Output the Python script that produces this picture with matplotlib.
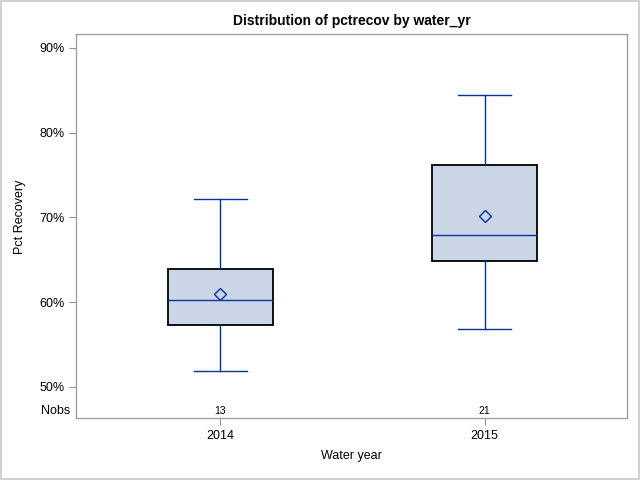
import matplotlib
matplotlib.use("Agg")
import matplotlib.pyplot as plt
import matplotlib.transforms as mtransforms
from matplotlib.ticker import FuncFormatter

plt.rcParams['font.family'] = ['Liberation Sans', 'DejaVu Sans']

years = ['2014', '2015']
nobs = [13, 21]
whislo = [51.9, 56.8]
q1 = [57.3, 64.8]
med = [60.2, 67.9]
q3 = [63.9, 76.2]
whishi = [72.2, 84.5]
means = [61.0, 70.2]

blue = '#0033A0'
fill = '#CAD5E5'

stats = []
for i in range(len(years)):
    stats.append({'label': years[i], 'whislo': whislo[i], 'q1': q1[i], 'med': med[i],
                  'q3': q3[i], 'whishi': whishi[i], 'mean': means[i], 'fliers': []})

fig = plt.figure(figsize=(6.4, 4.8), dpi=100)
fig.patch.set_edgecolor('#D0D0D0')
fig.patch.set_linewidth(1.5)
ax = fig.add_axes([0.1195, 0.1285, 0.8605, 0.80])

bp = ax.bxp(stats, positions=range(len(years)), widths=0.4, patch_artist=True,
            showmeans=True, showfliers=False,
            boxprops=dict(facecolor=fill, edgecolor='black', linewidth=1.3),
            whiskerprops=dict(color=blue, linewidth=1.0),
            capprops=dict(color=blue, linewidth=1.0),
            medianprops=dict(color=blue, linewidth=1.0),
            meanprops=dict(marker='D', markerfacecolor='none', markeredgecolor=blue,
                           markersize=6, markeredgewidth=1.0))
# shorter caps, like SAS
for cap in bp['caps']:
    xd = cap.get_xdata()
    cx = (xd[0] + xd[1]) / 2
    cap.set_xdata([cx - 0.1, cx + 0.1])

ax.set_xlim(-0.545, 1.54)
ax.set_ylim(46.3, 91.6)
ax.set_yticks([50, 60, 70, 80, 90])
ax.yaxis.set_major_formatter(FuncFormatter(lambda v, p: f'{v:.0f}%'))
ax.set_xticks(range(len(years)))
ax.set_xticklabels(years)
ax.tick_params(axis='both', labelsize=9, color='#909090', length=5, width=0.8)
for s in ax.spines.values():
    s.set_color('#A0A0A0')
    s.set_linewidth(1.0)

trans = mtransforms.blended_transform_factory(ax.transData, ax.transAxes)
for i, n in enumerate(nobs):
    ax.text(i, 0.02, str(n), transform=trans, ha='center', va='center', fontsize=7.5)
ax.text(-0.012, 0.02, 'Nobs', transform=ax.transAxes, ha='right', va='center', fontsize=9)

ax.set_title('Distribution of pctrecov by water_yr', fontsize=10, fontweight='bold', pad=7)
ax.set_ylabel('Pct Recovery', fontsize=9)
ax.yaxis.set_label_coords(-0.092, 0.524)
ax.set_xlabel('Water year', fontsize=9, labelpad=6)

fig.savefig('out.png', dpi=100)
